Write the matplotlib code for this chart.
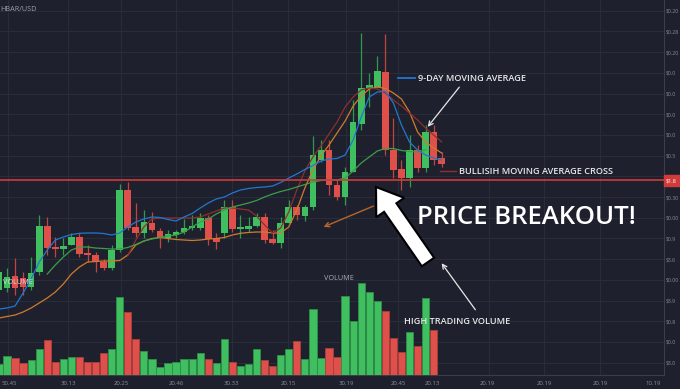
import matplotlib
matplotlib.use("Agg")
import matplotlib.pyplot as plt
from matplotlib.patches import FancyArrow
import numpy as np

# ---------------- data ----------------
idx = list(range(-1, 55))
opens = [11.0, 11.2, 12.4, 12.2, 11.33, 12.77, 17.43, 15.33, 15.07, 15.5, 16.27, 14.73, 14.5, 13.83, 13.17,
         15.0, 21.0, 17.27, 16.67, 17.73, 16.93, 16.17, 16.5, 16.77, 17.17, 17.17, 18.17, 16.17, 16.67, 19.27,
         17.1, 17.1, 17.4, 18.27, 16.1, 15.73, 17.73, 19.27, 18.43, 19.27, 24.0, 25.0, 21.5, 20.33, 22.83,
         27.6, 31.07, 31.27, 32.8, 25.0, 23.1, 22.2, 25.0, 23.2, 26.8, 24.2]
highs = [13.0, 13.2, 14.2, 12.8, 14.33, 18.5, 18.33, 16.33, 16.2, 16.7, 16.73, 15.5, 14.83, 14.07, 15.5,
         21.6, 21.83, 19.67, 19.0, 18.83, 17.17, 17.0, 17.0, 18.07, 18.5, 18.73, 18.5, 16.67, 20.0, 20.0,
         18.5, 18.33, 18.67, 18.67, 17.0, 18.27, 20.0, 19.5, 19.5, 26.43, 26.0, 26.0, 22.0, 23.33, 30.0,
         36.67, 32.7, 34.4, 36.57, 28.2, 24.0, 26.5, 25.5, 27.5, 27.5, 24.8]
lows = [10.8, 10.8, 10.5, 10.5, 11.0, 12.5, 14.5, 14.33, 14.5, 15.5, 14.27, 13.83, 12.83, 13.0, 13.0,
        14.8, 17.0, 16.33, 16.17, 16.83, 15.17, 15.83, 16.17, 16.6, 17.0, 17.0, 15.5, 15.07, 16.2, 16.83,
        16.17, 16.83, 17.33, 15.67, 15.6, 15.17, 17.67, 18.0, 17.93, 19.0, 23.8, 20.5, 20.0, 19.5, 22.8,
        27.0, 29.33, 31.2, 24.5, 22.2, 21.0, 21.33, 22.8, 22.8, 23.5, 23.3]
closes = [12.8, 12.27, 11.2, 11.3, 12.73, 17.43, 15.23, 15.1, 15.43, 16.27, 14.6, 14.5, 13.77, 13.17, 15.0,
          21.0, 17.17, 16.67, 17.83, 17.0, 16.17, 16.6, 16.77, 17.17, 17.43, 18.17, 16.1, 15.83, 19.27, 17.07,
          17.33, 17.43, 18.27, 16.0, 15.73, 17.73, 19.27, 18.5, 19.27, 24.5, 25.0, 21.5, 20.33, 22.83, 27.83,
          31.2, 31.5, 32.9, 25.0, 23.0, 22.2, 25.0, 23.2, 26.8, 24.0, 23.6]

volume = [11, 19.3, 17.3, 11.7, 15.3, 25.7, 35, 13.3, 15.7, 17.7, 17.7, 12.7, 12.7, 21.7, 25.7,
          77.7, 62.7, 36, 24.3, 16.3, 8.3, 12, 13, 15.7, 15.7, 22.3, 15.7, 11.7, 36, 13.3,
          9.3, 10.7, 26.3, 15, 8.7, 20.3, 26.3, 34.3, 16.3, 66.3, 17, 27.3, 17.7, 79, 54.3,
          92.3, 82.7, 74, 64.3, 36.7, 23, 43, 29.3, 77.3, 44.7, 0]
vol_up = "ggrrggrrggrrrrggrrggggggggrggrgggrrggrgggrrgggggrrrgrgrr"

ma9 = [9.1, 9.2, 9.4, 10.7, 12.1, 13.8, 15.0, 16.0, 16.3, 16.55, 16.67, 16.7, 16.7, 16.65, 16.5,
       16.7, 17.3, 17.8, 18.1, 18.3, 18.25, 18.05, 17.9, 18.3, 18.65, 19.2, 19.7, 20.1, 20.3, 20.7,
       21.0, 21.15, 21.25, 21.3, 21.4, 21.75, 22.2, 22.6, 23.05, 23.45, 23.9, 24.1, 24.15, 24.5, 26.0,
       28.3, 30.3, 30.8, 30.85, 29.7, 27.5, 25.8, 25.0, 24.5, 24.2, 24.0]
ma_orange = [8.2, 8.35, 8.5, 8.8, 9.2, 9.7, 10.2, 10.8, 11.6, 12.6, 13.3, 13.8, 13.85, 13.9, 13.9,
             13.95, 14.5, 15.5, 15.9, 16.15, 16.25, 16.15, 16.05, 16.0, 15.95, 16.0, 16.1, 16.15, 16.25, 16.5,
             16.67, 16.75, 16.8, 16.8, 16.7, 16.7, 17.3, 19.0, 21.2, 23.0, 24.4, 25.5, 26.7, 27.9, 29.4,
             30.4, 31.1, 31.3, 31.15, 30.7, 30.1, 28.8, 26.8, 25.8, 25.2, 24.7]
green_idx = list(range(5, 53))
ma_green = [12.6, 13.5, 14.3, 15.0, 15.3, 15.3, 15.2, 15.15, 15.1, 15.1, 15.25, 15.55, 15.9, 16.1, 16.25,
            16.4, 16.5, 16.8, 17.3, 17.8, 18.1, 18.6, 19.0, 19.3, 19.5, 19.7, 19.95, 20.3, 20.6, 20.85,
            21.05, 21.3, 21.55, 21.8, 21.95, 22.0, 22.0, 22.2, 22.9, 23.7, 24.3, 24.9, 25.15, 25.15, 24.95,
            24.85, 24.8, 25.0]
red_idx = list(range(15, 55))
ma_red = [14.4, 16.0, 17.3, 18.1, 18.2, 18.2, 18.2, 18.2, 18.2, 18.3, 18.6, 18.9, 19.2, 19.2, 19.1,
          19.0, 18.4, 17.5, 16.7, 17.2, 18.8, 21.0, 22.9, 24.3, 25.4, 26.6, 27.8, 29.3, 30.3, 31.0,
          31.2, 31.1, 30.7, 30.0, 29.4, 28.7, 28.0, 27.2, 26.5, 25.8]

price_ticks = [38.93, 36.86, 34.79, 32.72, 30.65, 28.58, 26.51, 24.44, 20.30, 18.23, 16.16, 14.09,
               12.02, 9.95, 7.88, 5.81, 3.74]
price_labels = ["$0.20", "$0.28", "$0.20", "$0.0", "$0.0", "$0.0", "$0.0", "$0.5", "$0.30", "$0.00",
                "$0.9", "$3.6", "$0.00", "$3.9", "$0.8", "$0.0", "$3.0"]
breakout_level = 22.0
breakout_label = "$1.8"

time_pos = [0.25, 7.6, 14.2, 21.0, 27.9, 34.9, 42.1, 48.6, 52.9, 59.7, 66.7, 73.7, 80.3]
time_labels = ["50.45", "30.13", "20.25", "20.46", "30.33", "20.15", "30.19", "20.45", "20.13",
               "20.19", "20.19", "20.19", "10.19"]
grid_x = [0.15, 7.6, 14.2, 21.0, 27.9, 34.9, 42.1, 48.6, 59.9, 66.7, 73.7]

# ---------------- style ----------------
BG = "#1e212d"
GRID = "#2a2e3a"
UP = "#3fbf5f"
DN = "#e0504a"
UP_E = "#2e8f46"
DN_E = "#a8403c"

W, H = 680, 389
fig = plt.figure(figsize=(W / 100, H / 100), dpi=100, facecolor=BG)
plt.rcParams['font.family'] = ['Open Sans', 'DejaVu Sans']

ax_l, ax_w = 0.0, 664 / W
ax_b, ax_h = (H - 375) / H, 375 / H
ax = fig.add_axes([ax_l, ax_b, ax_w, ax_h], facecolor=BG)
x0 = -7 / 8.05
x1 = (664 - 7) / 8.05
ax.set_xlim(x0, x1)
ax.set_ylim(2.5, 40)

ax.set_yticks(price_ticks + [22.37])
ax.yaxis.tick_right()
ax.set_yticklabels(price_labels + [""])
ax.tick_params(axis='y', length=0, pad=1.5, labelsize=3.7, labelcolor="#8b909c")
ax.set_xticks(grid_x)
ax.set_xticklabels([])
ax.tick_params(axis='x', length=0)
ax.grid(True, color=GRID, lw=0.7)
for s in ["top", "left"]:
    ax.spines[s].set_visible(False)
ax.spines["right"].set_color("#3a3e4a")
ax.spines["bottom"].set_color("#3a3e4a")
ax.spines["right"].set_linewidth(0.8)
ax.spines["bottom"].set_linewidth(0.8)

for t, lab in zip(time_pos, time_labels):
    ax.text(t, -0.022, lab, transform=ax.get_xaxis_transform(), ha="center", va="center",
            fontsize=4.3, color="#8b909c", clip_on=False)

# volume overlay
axv = fig.add_axes([ax_l, ax_b, ax_w, 100 / H])
axv.set_xlim(x0, x1)
axv.set_ylim(0, 100)
axv.patch.set_alpha(0)
axv.axis("off")
vcol = [UP if c == "g" else DN for c in vol_up]
vedge = [UP_E if c == "g" else DN_E for c in vol_up]
axv.bar(idx, volume, width=0.9, color=vcol, edgecolor=vedge, linewidth=0.6, zorder=2)

# candles
for i, o, h, l, c in zip(idx, opens, highs, lows, closes):
    col = UP if c >= o else DN
    wcol = "#2f9a4c" if c >= o else "#c2443f"
    ax.vlines(i, l, h, color=wcol, lw=0.9, zorder=4)
    ax.bar(i, max(abs(c - o), 0.15), bottom=min(o, c), width=0.82, color=col, zorder=5, linewidth=0)

# moving averages (drawn over candles)
ax.plot(idx, ma_orange, color="#d07a2c", lw=0.9, zorder=6)
ax.plot(red_idx, ma_red, color="#8e2f2c", lw=0.9, zorder=6)
ax.plot(green_idx, ma_green, color="#3a9e48", lw=0.9, zorder=6)
ax.plot(idx, ma9, color="#2276d0", lw=0.9, zorder=6)

# breakout line
ax.axhline(breakout_level, color="#d23a3a", lw=1.2, zorder=7)

# ---------------- annotation overlay (pixel space) ----------------
ov = fig.add_axes([0, 0, 1, 1])
ov.set_xlim(0, W)
ov.set_ylim(H, 0)
ov.patch.set_alpha(0)
ov.axis("off")

ov.text(0, 9, "HBAR/USD", fontsize=5.2, color="#9aa0aa", va="center", ha="left")
ov.text(3, 283, "VOLUME", fontsize=5.2, color="#d8dbe0", va="center", ha="left")
ov.text(324, 278, "VOLUME", fontsize=5.2, color="#a8adb6", va="center", ha="left")

# red price box
ov.add_patch(plt.Rectangle((664, 175), 16, 11, color="#d23a3a", zorder=7))
ov.text(666, 180.5, breakout_label, fontsize=4.0, color="white", va="center", ha="left", zorder=8)

# 9-day MA label
ov.plot([398, 415], [78, 78], color="#2276d0", lw=1.3)
ov.text(418, 78, "9-DAY MOVING AVERAGE", fontsize=6.6, color="#e8e8e8", va="center", ha="left",
        fontweight="semibold")
ov.annotate("", xy=(426, 129), xytext=(461, 85),
            arrowprops=dict(arrowstyle="->", color="#e8e8e8", lw=0.9, mutation_scale=8))

# bullish cross label
ov.plot([440, 456], [171, 171], color="#8e2f2c", lw=1.0)
ov.text(459, 171, "BULLISIH MOVING AVERAGE CROSS", fontsize=6.6, color="#e8e8e8", va="center",
        ha="left", fontweight="semibold")

# brown arrow
ov.annotate("", xy=(321, 228), xytext=(376, 205),
            arrowprops=dict(arrowstyle="->", color="#b8652a", lw=1.0, mutation_scale=8))

# big white arrow
ov.add_patch(FancyArrow(428, 262, -52, -75, width=15, head_width=34, head_length=25,
                        length_includes_head=True, fc="white", ec="black", lw=1.5, zorder=9))

ov.text(417, 217, "PRICE BREAKOUT!", fontsize=18.5, color="white", va="center", ha="left",
        fontweight="semibold")

# high volume
ov.annotate("", xy=(440, 261), xytext=(477, 312),
            arrowprops=dict(arrowstyle="->", color="#e8e8e8", lw=0.9, mutation_scale=8))
ov.text(404, 321, "HIGH TRADING VOLUME", fontsize=6.6, color="#e8e8e8", va="center", ha="left",
        fontweight="semibold")

fig.savefig("out.png", dpi=100, facecolor=BG)
